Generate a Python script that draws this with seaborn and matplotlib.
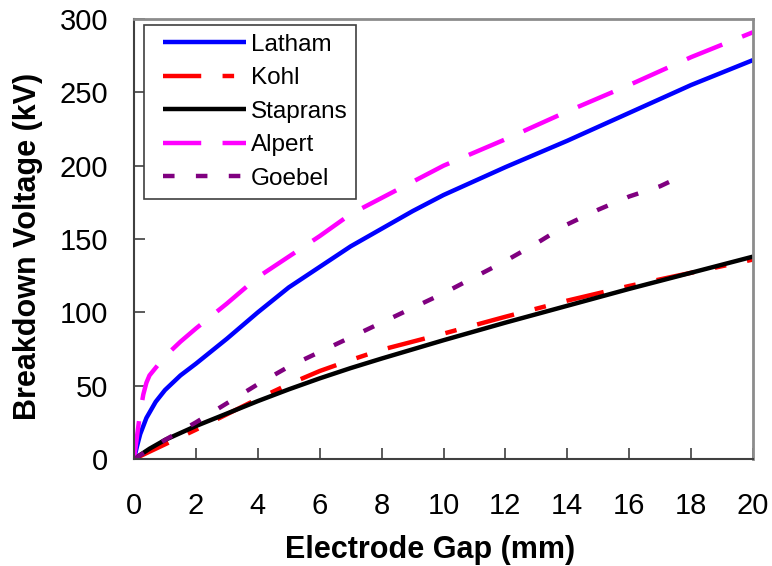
import matplotlib
matplotlib.use("Agg")
import matplotlib.pyplot as plt
from matplotlib.legend_handler import HandlerLine2D
from matplotlib.lines import Line2D
import seaborn as sns
import pandas as pd

# Breakdown voltage (kV) versus electrode gap (mm) for five empirical fits
latham_gap = [0, 0.1, 0.2, 0.4, 0.7, 1, 1.5, 2, 3, 4, 5, 6, 7, 8, 9, 10, 12, 14, 16, 18, 20]
latham_kv = [0, 9, 17, 28, 39, 47, 57, 65, 82, 100, 117, 131, 145, 157, 169, 180, 199, 217, 236, 255, 272]

kohl_gap = [0, 0.5, 1, 2, 3, 4, 5, 6, 7, 8, 10, 12, 14, 16, 18, 20]
kohl_kv = [0, 5, 10, 20, 30.5, 41, 51, 60, 67.5, 74.5, 85.5, 97, 108, 118, 127, 136]

staprans_gap = [0, 0.5, 1, 2, 3, 4, 5, 6, 7, 8, 10, 12, 14, 16, 18, 20]
staprans_kv = [0, 7, 13, 22.5, 31, 39.5, 47.5, 55, 62, 68.5, 81, 93, 104.5, 116, 127, 138]

alpert_gap = [0, 0.05, 0.1, 0.2, 0.3, 0.4, 0.5, 1, 1.5, 2, 3, 4, 5, 6, 7, 8, 10, 12, 14, 16, 18, 20]
alpert_kv = [0, 8, 16, 32, 44, 52, 57, 70, 80, 89, 106, 124, 138, 152, 167, 178, 200, 218, 237, 255, 274, 291]

goebel_gap = [0, 1, 2, 3, 4, 5, 6, 7, 8, 9, 10, 11, 12, 13, 14, 15, 16, 17, 17.3]
goebel_kv = [0, 13, 25, 38, 51, 63, 73, 83, 93, 103, 113, 124, 135, 147, 160, 170, 179, 186, 189]

series_names = ["Latham", "Kohl", "Staprans", "Alpert", "Goebel"]
x_ticks = list(range(0, 21, 2))
y_ticks = list(range(0, 301, 50))

sns.set_style("ticks")
plt.rcParams["font.family"] = ["Liberation Sans", "DejaVu Sans"]
plt.rcParams["text.color"] = "black"
plt.rcParams["axes.labelcolor"] = "black"
plt.rcParams["xtick.labelcolor"] = "black"
plt.rcParams["ytick.labelcolor"] = "black"

fig = plt.figure(figsize=(7.72, 5.66), dpi=100)
ax = fig.add_axes([0.1736, 0.189, 0.8018, 0.7774])

styles = {
    "Latham": dict(color="#0000FF", linestyle="-"),
    "Kohl": dict(color="#FF0000", linestyle=(0, (8.6, 4.8, 2.6, 4.8))),
    "Staprans": dict(color="#000000", linestyle="-"),
    "Alpert": dict(color="#FF00FF", linestyle=(0, (8.6, 4.8))),
    "Goebel": dict(color="#800080", linestyle=(0, (2.6, 4.8))),
}
data = {
    "Latham": (latham_gap, latham_kv),
    "Kohl": (kohl_gap, kohl_kv),
    "Staprans": (staprans_gap, staprans_kv),
    "Alpert": (alpert_gap, alpert_kv),
    "Goebel": (goebel_gap, goebel_kv),
}

for name in series_names:
    gx, gy = data[name]
    df = pd.DataFrame({"gap": gx, "kv": gy})
    sns.lineplot(data=df, x="gap", y="kv", ax=ax, label=name, lw=3.2,
                 solid_capstyle="butt", dash_capstyle="butt", **styles[name])

ax.set_xlim(0, 20)
ax.set_ylim(0, 300)
ax.set_xticks(x_ticks)
ax.set_yticks(y_ticks)
ax.tick_params(axis="both", direction="in", length=8, width=1.2, color="#404040",
               labelsize=21)
ax.tick_params(axis="x", pad=24)
ax.tick_params(axis="y", pad=18.5)

for side in ["left", "bottom"]:
    ax.spines[side].set_color("#404040")
    ax.spines[side].set_linewidth(1.5)
for side in ["top", "right"]:
    ax.spines[side].set_visible(True)
    ax.spines[side].set_color("#8c8c8c")
    ax.spines[side].set_linewidth(2)

ax.set_xlabel("Electrode Gap (mm)", fontsize=22, fontweight="bold")
ax.set_ylabel("Breakdown Voltage (kV)", fontsize=22, fontweight="bold")
ax.xaxis.set_label_coords(0.478, -0.1716)
ax.yaxis.set_label_coords(-0.1475, 0.484)

# legend handles inset from the left edge of the frame
handler = {Line2D: HandlerLine2D(xpad=0.4)}
leg = ax.legend(loc="upper left", bbox_to_anchor=(0.0162, 0.987), fontsize=17.5,
                frameon=True, fancybox=False, framealpha=1, edgecolor="#404040",
                handlelength=3.82, handletextpad=0.18, labelspacing=0.47,
                borderpad=0.38, borderaxespad=0, handler_map=handler)
leg.get_frame().set_linewidth(1.2)

fig.savefig("out.png", dpi=100)
